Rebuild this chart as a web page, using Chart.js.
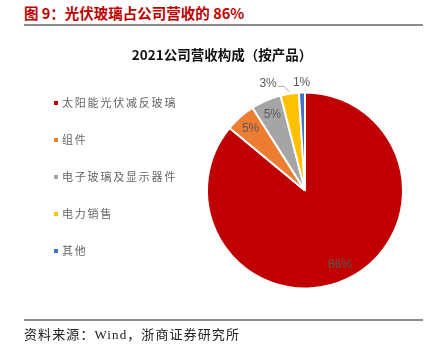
<!DOCTYPE html>
<html>
<head>
<meta charset="utf-8">
<script src="https://cdn.jsdelivr.net/npm/chart.js@4.4.0/dist/chart.umd.min.js"></script>
<style>
    body { margin: 0; width: 436px; height: 352px; background: #fff; position: relative; overflow: hidden; font-family: "Noto Sans CJK SC", sans-serif; }
    #wrap { position: absolute; left: 0; top: 0; width: 436px; height: 352px; }
    .head { position: absolute; left: 24px; top: 4px; line-height: 18px; font-size: 14.5px; font-weight: bold; color: #c00000; white-space: nowrap; }
    .rule { position: absolute; left: 24px; width: 399px; height: 0; border-top: 2px solid #8c8c8c; }
    .src { position: absolute; left: 24px; top: 326px; line-height: 17px; font-size: 13px; letter-spacing: 1.1px; color: #222; white-space: nowrap; font-family: "Liberation Serif", "Noto Sans CJK SC", serif; }
</style>
</head>
<body>
<div class="head">图 9：光伏玻璃占公司营收的 86%</div>
<div class="rule" style="top:24px"></div>
<div id="wrap"><canvas id="chart-pie"></canvas></div>
<div class="rule" style="top:319px"></div>
<div class="src">资料来源：Wind，浙商证券研究所</div>
<script>
// data
const chartTitle = '2021公司营收构成（按产品）';
const categories = ['太阳能光伏减反玻璃', '组件', '电子玻璃及显示器件', '电力销售', '其他'];
const shares = [86, 5, 5, 3, 1];

const sliceColors = ['#c00000', '#ed7d31', '#a5a5a5', '#ffc000', '#4472c4'];

// titel, legenda dan label persen digambar manual
const decorPlugin = {
    id: 'decor',
    afterDraw(chart) {
        const ctx = chart.ctx;
        ctx.save();

        ctx.font = 'bold 13.5px "Noto Sans CJK SC"';
        ctx.fillStyle = '#111';
        ctx.textAlign = 'center';
        ctx.textBaseline = 'middle';
        ctx.fillText(chartTitle, 222, 55);

        // legend
        ctx.font = '11px "Noto Sans CJK SC"';
        ctx.textAlign = 'left';
        categories.forEach((name, i) => {
            const y = 103 + i * 37;
            ctx.fillStyle = sliceColors[i];
            ctx.fillRect(54, y - 2, 4, 4);
            ctx.fillStyle = '#666666';
            let x = 62;
            for (const ch of name) {
                ctx.fillText(ch, x, y);
                x += ctx.measureText(ch).width + 1.8;
            }
        });

        // percent labels
        const meta = chart.getDatasetMeta(0);
        ctx.font = '12px "Liberation Sans", Arial';
        ctx.textAlign = 'center';
        ctx.fillStyle = '#595959';
        meta.data.forEach((arc, i) => {
            const p = arc.getProps(['x', 'y', 'startAngle', 'endAngle', 'outerRadius'], true);
            const mid = (p.startAngle + p.endAngle) / 2;
            const text = shares[i] + '%';
            if (shares[i] >= 5) {
                const r = p.outerRadius * 0.84;
                ctx.fillText(text, p.x + Math.cos(mid) * r, p.y + Math.sin(mid) * r);
            } else {
                const r = p.outerRadius + 10;
                let lx = p.x + Math.cos(mid) * r;
                const ly = p.y + Math.sin(mid) * r;
                if (shares[i] === 3) {
                    lx -= 20;
                    const ax = p.x + Math.cos(mid) * (p.outerRadius + 2);
                    const ay = p.y + Math.sin(mid) * (p.outerRadius + 2);
                    ctx.strokeStyle = '#a6a6a6';
                    ctx.lineWidth = 1;
                    ctx.beginPath();
                    ctx.moveTo(lx + 10, ly + 2.5);
                    ctx.lineTo(lx + 16, ly + 2.5);
                    ctx.lineTo(ax, ay);
                    ctx.stroke();
                }
                ctx.fillText(text, lx, ly);
            }
        });
        ctx.restore();
    }
};

document.addEventListener('DOMContentLoaded', function() {
    const ctx = document.getElementById('chart-pie');
    new Chart(ctx, {
        type: 'pie',
        data: {
            labels: categories,
            datasets: [{
                data: shares,
                backgroundColor: sliceColors,
                borderColor: '#ffffff',
                borderWidth: 2
            }]
        },
        options: {
            responsive: true,
            maintainAspectRatio: false,
            animation: false,
            layout: {
                padding: { left: 206, right: 32, top: 91, bottom: 62 }
            },
            plugins: {
                legend: { display: false },
                tooltip: { enabled: false },
                title: { display: false }
            }
        },
        plugins: [decorPlugin]
    });
});
</script>
</body>
</html>
